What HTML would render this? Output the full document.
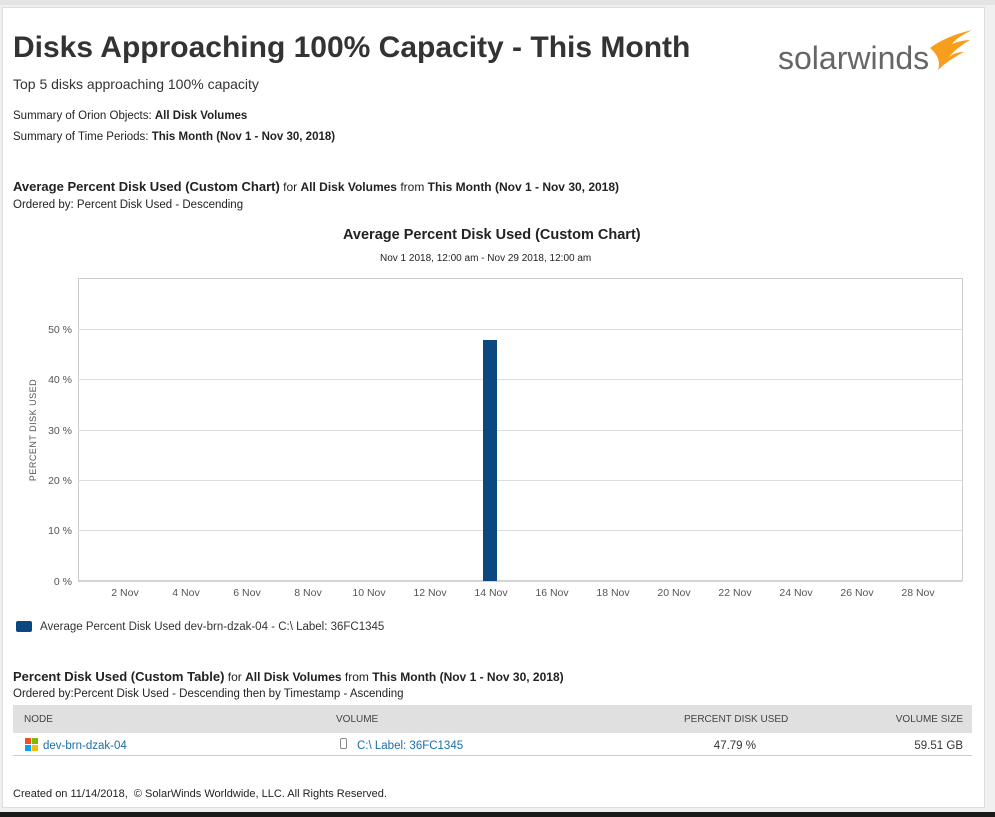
<!DOCTYPE html>
<html><head><style>
body{margin:0;width:995px;height:817px;background:#f0f0f0;font-family:"Liberation Sans",sans-serif;color:#222;position:relative;overflow:hidden}
.card{position:absolute;left:2px;top:7px;width:981px;height:799px;background:#fff;border:1px solid #ddd}
.t{position:absolute;white-space:nowrap}
b{font-weight:bold}
.dark{position:absolute;left:0;top:812px;width:995px;height:5px;background:#1a1a1a}
.top{position:absolute;left:0;top:0;width:995px;height:5px;background:#e4e4e4}
</style></head><body>
<div class="top"></div>
<div class="card"></div>
<div class="dark"></div>
<div class="t" style="left:13px;top:31px;font-size:30px;font-weight:bold;color:#333">Disks Approaching 100% Capacity - This Month</div>
<div class="t" style="left:13px;top:76px;font-size:14px;color:#333">Top 5 disks approaching 100% capacity</div>
<div class="t" style="left:778px;top:40px;font-size:32px;color:#666">solarwinds</div>
<svg style="position:absolute;left:926px;top:28px" width="48" height="45"><path d="M4 20 Q20 8 46 2 Q30 10 26 16 Q36 12 44 12 Q30 20 22 30 Q28 24 38 24 Q22 32 12 42 Q16 30 4 20Z" fill="#f99d1c"/></svg>
<div class="t" style="left:13px;top:110px;font-size:11.5px">Summary of Orion Objects: <b>All Disk Volumes</b></div>
<div class="t" style="left:13px;top:131px;font-size:11.5px">Summary of Time Periods: <b>This Month (Nov 1 - Nov 30, 2018)</b></div>
<div class="t" style="left:13px;top:179px;font-size:12px"><b style="font-size:13px">Average Percent Disk Used (Custom Chart)</b> for <b>All Disk Volumes</b> from <b>This Month (Nov 1 - Nov 30, 2018)</b></div>
<div class="t" style="left:13px;top:199px;font-size:11.5px">Ordered by: Percent Disk Used - Descending</div>
<div class="t" style="left:343px;top:227px;font-size:14.5px;font-weight:bold">Average Percent Disk Used (Custom Chart)</div>
<div class="t" style="left:380px;top:253px;font-size:10px">Nov 1 2018, 12:00 am - Nov 29 2018, 12:00 am</div>
<svg style="position:absolute;left:0;top:0" width="995" height="817" font-family="Liberation Sans,sans-serif">
<rect x="78.5" y="278.5" width="884" height="302.5" fill="none" stroke="#ccc"/>
<g stroke="#ddd"><line x1="78" x2="962" y1="329.5" y2="329.5"/><line x1="78" x2="962" y1="379.5" y2="379.5"/><line x1="78" x2="962" y1="430.5" y2="430.5"/><line x1="78" x2="962" y1="480.5" y2="480.5"/><line x1="78" x2="962" y1="530.5" y2="530.5"/></g>
<line x1="78" x2="962" y1="581" y2="581" stroke="#aaa"/>
<g font-size="10.5" fill="#555" text-anchor="end"><text x="72" y="333">50 %</text><text x="72" y="383">40 %</text><text x="72" y="434">30 %</text><text x="72" y="484">20 %</text><text x="72" y="534">10 %</text><text x="72" y="585">0 %</text></g>
<text x="36" y="430" font-size="9" fill="#555" text-anchor="middle" letter-spacing="0.5" transform="rotate(-90 36 430)">PERCENT DISK USED</text>
<g font-size="10.5" fill="#555" text-anchor="middle"><text x="125" y="596">2 Nov</text><text x="186" y="596">4 Nov</text><text x="247" y="596">6 Nov</text><text x="308" y="596">8 Nov</text><text x="369" y="596">10 Nov</text><text x="430" y="596">12 Nov</text><text x="491" y="596">14 Nov</text><text x="552" y="596">16 Nov</text><text x="613" y="596">18 Nov</text><text x="674" y="596">20 Nov</text><text x="735" y="596">22 Nov</text><text x="796" y="596">24 Nov</text><text x="857" y="596">26 Nov</text><text x="918" y="596">28 Nov</text></g>
<rect x="483" y="340" width="14" height="241" fill="#0d4780"/>
<rect x="16" y="621" width="16" height="11" rx="2" fill="#0d4780"/>
<text x="40" y="630" font-size="11.5" fill="#333">Average Percent Disk Used dev-brn-dzak-04 - C:\ Label: 36FC1345</text>
<rect x="13" y="705" width="959" height="28" fill="#e0e0e0"/>
<line x1="13" x2="972" y1="755.5" y2="755.5" stroke="#ccc"/>
<g font-size="10" fill="#444"><text x="24" y="722">NODE</text><text x="336" y="722">VOLUME</text><text x="684" y="722">PERCENT DISK USED</text><text x="963" y="722" text-anchor="end">VOLUME SIZE</text></g>
<rect x="25" y="738" width="6" height="6" fill="#f25022"/><rect x="32" y="738" width="6" height="6" fill="#7fba00"/><rect x="25" y="745" width="6" height="6" fill="#00a4ef"/><rect x="32" y="745" width="6" height="6" fill="#ffb900"/>
<text x="43" y="749" font-size="11.5" fill="#1a6ea8">dev-brn-dzak-04</text>
<rect x="340.5" y="738.5" width="6" height="10" rx="1.5" fill="none" stroke="#888"/>
<text x="357" y="749" font-size="11.5" fill="#1a6ea8">C:\ Label: 36FC1345</text>
<text x="756" y="749" font-size="11.5" fill="#333" text-anchor="end">47.79 %</text>
<text x="963" y="749" font-size="11.5" fill="#333" text-anchor="end">59.51 GB</text>
</svg>
<div class="t" style="left:13px;top:669px;font-size:12px"><b style="font-size:13px">Percent Disk Used (Custom Table)</b> for <b>All Disk Volumes</b> from <b>This Month (Nov 1 - Nov 30, 2018)</b></div>
<div class="t" style="left:13px;top:688px;font-size:11.5px">Ordered by:Percent Disk Used - Descending then by Timestamp - Ascending</div>
<div class="t" style="left:13px;top:788px;font-size:11px">Created on 11/14/2018, &nbsp;© SolarWinds Worldwide, LLC. All Rights Reserved.</div>
</body></html>
